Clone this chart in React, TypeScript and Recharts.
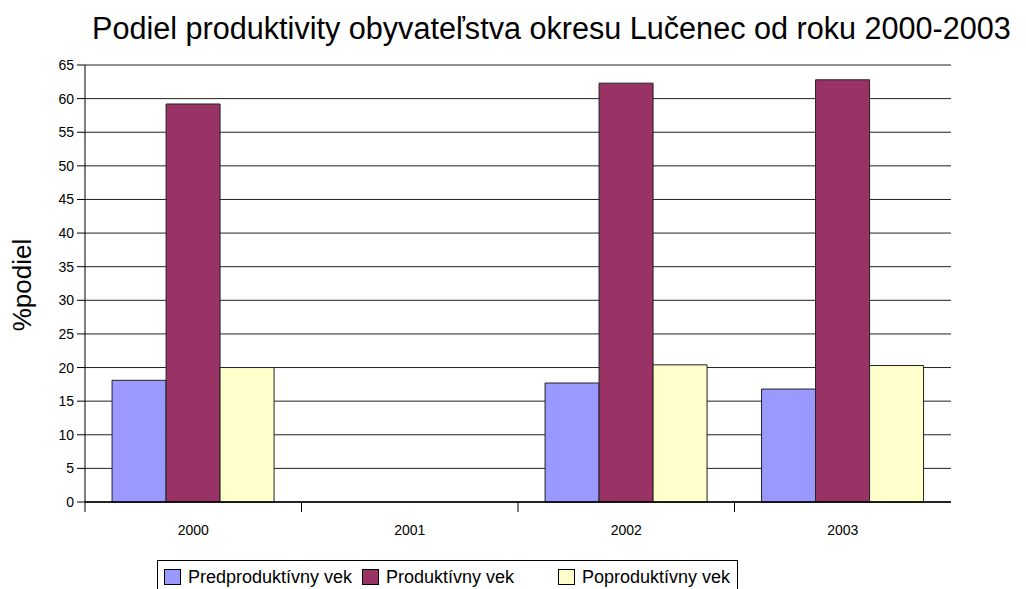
import React from 'react';
import { BarChart, Bar, XAxis, YAxis, CartesianGrid } from 'recharts';

const categories = ['2000', '2001', '2002', '2003'];
const predproduktivny = [18.1, 0, 17.7, 16.8];
const produktivny = [59.2, 0, 62.3, 62.8];
const poproduktivny = [20.0, 0, 20.4, 20.3];
const yTicks = [0, 5, 10, 15, 20, 25, 30, 35, 40, 45, 50, 55, 60, 65];

const seriesNames = ['Predproduktívny vek', 'Produktívny vek', 'Poproduktívny vek'];
const seriesColors = ['#9999FF', '#993366', '#FFFFCC'];

const data = categories.map((c, i) => ({
  year: c,
  pre: predproduktivny[i],
  pro: produktivny[i],
  post: poproduktivny[i],
}));

const FONT = '"Liberation Sans", Arial, sans-serif';

const W = 1026;
const H = 589;
const M = { top: 65, right: 75, bottom: 0, left: 0 };
const YAXIS_W = 85;
const XAXIS_H = 87;
const plotW = W - M.left - M.right - YAXIS_W;
const halfBand = plotW / categories.length / 2;

const XTick = (props: any) => {
  const { x, y, payload } = props;
  return (
    <g>
      <line x1={x - halfBand} y1={y - 8} x2={x - halfBand} y2={y + 2} stroke="#000" strokeWidth={1} />
      <text x={x} y={y + 25} textAnchor="middle" fontSize={14} fontFamily={FONT} fill="#000">
        {payload.value}
      </text>
    </g>
  );
};

const legendLeft = [6, 204, 400];

export default function App() {
  return (
    <div style={{ position: 'absolute', left: 0, top: 0, width: W, height: H, background: '#fff', overflow: 'hidden' }}>
      <div
        style={{
          position: 'absolute',
          left: 92,
          top: 11,
          fontFamily: FONT,
          fontSize: 30.6,
          color: '#000',
          whiteSpace: 'nowrap',
        }}
      >
        Podiel produktivity obyvateľstva okresu Lučenec od roku 2000-2003
      </div>
      <div
        style={{
          position: 'absolute',
          left: 22,
          top: 285,
          fontFamily: FONT,
          fontSize: 26,
          color: '#000',
          whiteSpace: 'nowrap',
          transform: 'translate(-50%, -50%) rotate(-90deg)',
        }}
      >
        %podiel
      </div>
      <div style={{ position: 'absolute', left: 0, top: 0 }}>
        <BarChart
          width={W}
          height={H}
          data={data}
          margin={M}
          barCategoryGap="12.5%"
          barGap={0}
        >
          <CartesianGrid vertical={false} stroke="#222" strokeWidth={1} />
          <XAxis
            dataKey="year"
            tickLine={false}
            axisLine={{ stroke: '#000', strokeWidth: 1.5 }}
            tick={<XTick />}
            interval={0}
            height={XAXIS_H}
          />
          <YAxis
            width={YAXIS_W}
            domain={[0, 65]}
            ticks={yTicks}
            interval={0}
            tickSize={8}
            tickLine={{ stroke: '#000' }}
            axisLine={{ stroke: '#000', strokeWidth: 1 }}
            tick={{ fontSize: 14, fontFamily: FONT, fill: '#000' }}
            tickMargin={3}
          />
          <Bar dataKey="pre" name={seriesNames[0]} fill={seriesColors[0]} stroke="#222" strokeWidth={1} isAnimationActive={false} />
          <Bar dataKey="pro" name={seriesNames[1]} fill={seriesColors[1]} stroke="#222" strokeWidth={1} isAnimationActive={false} />
          <Bar dataKey="post" name={seriesNames[2]} fill={seriesColors[2]} stroke="#222" strokeWidth={1} isAnimationActive={false} />
        </BarChart>
      </div>
      <div
        style={{
          position: 'absolute',
          left: 157,
          top: 560,
          width: 581,
          height: 40,
          border: '1px solid #000',
          boxSizing: 'border-box',
          fontFamily: FONT,
          fontSize: 18,
          color: '#000',
        }}
      >
        {seriesNames.map((n, i) => (
          <div
            key={n}
            style={{ position: 'absolute', left: legendLeft[i], top: 6, height: 20, display: 'flex', alignItems: 'center', whiteSpace: 'nowrap' }}
          >
            <span
              style={{
                display: 'inline-block',
                width: 17,
                height: 16,
                background: seriesColors[i],
                border: '1px solid #000',
                boxSizing: 'border-box',
                marginRight: 7,
              }}
            />
            <span>{n}</span>
          </div>
        ))}
      </div>
    </div>
  );
}
